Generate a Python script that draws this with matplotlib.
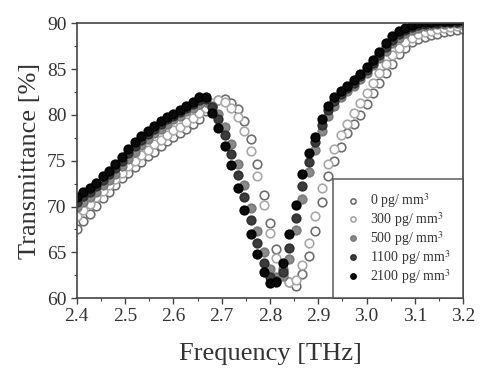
import numpy as np
import matplotlib
matplotlib.use('Agg')
import matplotlib.pyplot as plt
from matplotlib.ticker import MultipleLocator

plt.rcParams['font.family'] = ['Liberation Serif', 'DejaVu Serif']
plt.rcParams['mathtext.fontset'] = 'stix'

# frequency grid (THz)
freq = np.linspace(2.4, 3.2, 61)

t_0 = [67.6, 68.4, 69.2, 70.1, 70.9, 71.6, 72.4, 73.1, 73.7, 74.3,
       74.9, 75.5, 76.0, 76.6, 77.1, 77.6, 78.0, 78.5, 79.0, 79.6,
       80.4, 81.1, 81.6, 81.7, 81.3, 80.6, 79.3, 77.4, 74.6, 71.3,
       68.2, 65.4, 63.2, 61.8, 61.3, 62.6, 64.6, 67.3, 70.5, 73.3,
       75.0, 76.5, 78.0, 79.0, 80.0, 81.2, 82.4, 83.5, 84.6, 85.5,
       86.6, 87.3, 87.9, 88.3, 88.5, 88.7, 88.8, 89.0, 89.1, 89.3, 89.4]

t_300 = [69.0, 69.6, 70.3, 71.0, 71.7, 72.3, 73.0, 73.7, 74.4, 75.0,
         75.6, 76.2, 76.8, 77.3, 77.8, 78.3, 78.7, 79.2, 79.7, 80.2,
         80.8, 81.3, 81.6, 81.4, 80.8, 79.8, 78.2, 76.1, 73.3, 70.2,
         67.1, 64.4, 62.6, 61.8, 62.0, 63.6, 66.0, 69.0, 72.0, 74.6,
         76.3, 77.8, 79.0, 80.2, 81.3, 82.4, 83.5, 84.6, 85.6, 86.5,
         87.3, 87.9, 88.4, 88.8, 89.0, 89.2, 89.4, 89.5, 89.6, 89.7, 89.8]

t_500 = [69.9, 70.5, 71.0, 71.6, 72.3, 72.9, 73.6, 74.4, 75.2, 76.0,
         76.7, 77.4, 78.0, 78.5, 79.0, 79.5, 79.9, 80.4, 80.8, 81.2,
         81.4, 81.0, 80.1, 78.7, 76.8, 74.6, 72.3, 69.8, 67.3, 65.0,
         63.2, 62.3, 62.4, 64.3, 67.4, 70.8, 73.8, 76.2, 78.2, 79.9,
         81.0, 81.9, 82.6, 83.2, 83.9, 84.6, 85.4, 86.2, 87.0, 87.8,
         88.4, 88.9, 89.3, 89.5, 89.7, 89.8, 89.9, 89.9, 90.0, 90.0, 90.0]

t_1100 = [70.5, 71.1, 71.6, 72.2, 72.9, 73.5, 74.2, 75.0, 75.8, 76.6,
          77.3, 77.9, 78.5, 79.0, 79.5, 79.9, 80.3, 80.8, 81.2, 81.6,
          81.7, 80.9, 79.6, 77.8, 75.7, 73.4, 71.0, 68.5, 66.0, 63.8,
          62.3, 61.9, 62.9, 65.5, 68.8, 72.2, 74.9, 77.0, 78.9, 80.5,
          81.5, 82.3, 82.9, 83.5, 84.2, 84.9, 85.7, 86.5, 87.4, 88.2,
          88.8, 89.3, 89.6, 89.8, 89.9, 90.0, 90.0, 90.1, 90.1, 90.1, 90.2]

t_2100 = [71.0, 71.6, 72.0, 72.6, 73.3, 73.9, 74.6, 75.4, 76.3, 77.0,
          77.7, 78.2, 78.8, 79.3, 79.8, 80.1, 80.5, 81.0, 81.4, 81.9,
          82.0, 80.2, 78.6, 76.6, 74.5, 72.0, 69.6, 67.0, 64.8, 62.8,
          61.6, 61.8, 63.8, 67.0, 70.2, 73.5, 75.8, 77.6, 79.6, 81.0,
          81.9, 82.6, 83.2, 83.8, 84.5, 85.2, 86.0, 86.9, 87.8, 88.6,
          89.1, 89.5, 89.8, 90.0, 90.1, 90.1, 90.2, 90.2, 90.2, 90.3, 90.3]

labels = ['0 pg/ mm$^3$', '300 pg/ mm$^3$', '500 pg/ mm$^3$',
          '1100 pg/ mm$^3$', '2100 pg/ mm$^3$']
series = [t_0, t_300, t_500, t_1100, t_2100]
faces = ['white', 'white', '#8a8a8a', '#3c3c3c', '#0a0a0a']
edges = ['#6e6e6e', '#a8a8a8', '#7a7a7a', '#303030', '#000000']

fig = plt.figure(figsize=(4.8, 3.69), dpi=100)
ax = fig.add_axes([0.160, 0.192, 0.805, 0.745])

for t, lab, fc, ec in zip(series, labels, faces, edges):
    ax.plot(freq, t, 'o', ms=6.2, mfc=fc, mec=ec, mew=1.2, label=lab)

ax.set_xlim(2.4, 3.2)
ax.set_ylim(60, 90)
ax.xaxis.set_major_locator(MultipleLocator(0.1))
ax.xaxis.set_minor_locator(MultipleLocator(0.05))
ax.yaxis.set_major_locator(MultipleLocator(5))
ax.yaxis.set_minor_locator(MultipleLocator(2.5))
ax.xaxis.set_major_formatter(plt.FuncFormatter(lambda v, p: '%.1f' % v))

for s in ax.spines.values():
    s.set_color('#444444')
    s.set_linewidth(1.2)
ax.tick_params(which='major', direction='out', length=4, width=1,
               colors='#444444', labelcolor='#333333', labelsize=14)
ax.tick_params(which='minor', direction='out', length=2, width=0.8,
               colors='#444444')
ax.tick_params(axis='x', pad=3)

ax.set_xlabel('Frequency [THz]', fontsize=19, color='#333333', labelpad=13)
ax.set_ylabel('Transmittance [%]', fontsize=19, color='#333333', labelpad=4)

leg = ax.legend(loc='lower right', fontsize=10, frameon=True, fancybox=False,
                borderaxespad=0, handletextpad=0.75, labelspacing=0.0,
                borderpad=0.9, markerscale=0.6, handlelength=1.0)
leg.get_frame().set_edgecolor('#444444')
leg.get_frame().set_linewidth(1.2)
for txt in leg.get_texts():
    txt.set_color('#333333')

fig.savefig('out.png', dpi=100)
